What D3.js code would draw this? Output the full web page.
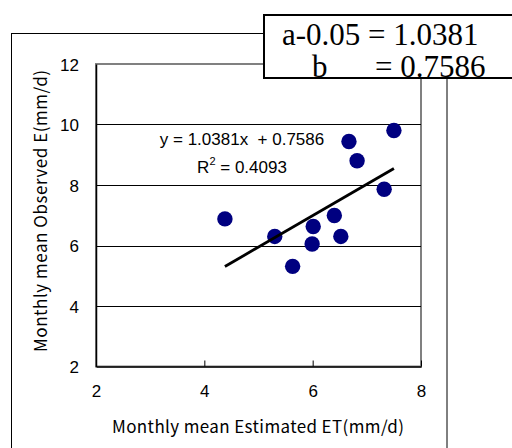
<!DOCTYPE html>
<html><head><meta charset="utf-8">
<script src="https://cdn.jsdelivr.net/npm/d3@7"></script>
<style>body{margin:0;background:#fff}svg{display:block}</style>
</head><body>
<script>
const estET = [4.38, 5.30, 5.63, 5.99, 6.01, 6.40, 6.52, 6.67, 6.82, 7.32, 7.50];
const obsE  = [6.88, 6.30, 5.31, 6.05, 6.63, 6.99, 6.30, 9.44, 8.80, 7.86, 9.80];
const xTicks = [2, 4, 6, 8];
const yTicks = [2, 4, 6, 8, 10, 12];
const slope = 1.0381, intercept = 0.7586, r2 = 0.4093;
const xTitle = "Monthly mean Estimated ET(mm/d)";
const yTitle = "Monthly mean Observed E(mm/d)";
const boxLine1 = "a-0.05 = 1.0381";
const boxLine2a = "b", boxLine2b = "= 0.7586";

const W = 512, H = 448;
const svg = d3.select("body").append("svg").attr("width", W).attr("height", H);
const L = 96, R = 421, T = 64, B = 366.5;
const x = d3.scaleLinear().domain([2, 8]).range([L, R]);
const y = d3.scaleLinear().domain([2, 12]).range([B, T]);

// outer chart frame
svg.append("rect").attr("x", 11.5).attr("y", 33.5).attr("width", 435.5).attr("height", 440)
  .attr("fill", "#fff").attr("stroke", "#000").attr("stroke-width", 1);

// plot area border (gray)
svg.append("rect").attr("x", L).attr("y", T).attr("width", R - L).attr("height", B - T)
  .attr("fill", "none").attr("stroke", "#808080").attr("stroke-width", 2);

// gridlines
svg.append("g").selectAll("line").data(yTicks.filter(d => d > 2 && d < 12)).join("line")
  .attr("x1", L).attr("x2", R).attr("y1", d => Math.round(y(d)) + 0.5).attr("y2", d => Math.round(y(d)) + 0.5)
  .attr("stroke", "#000").attr("stroke-width", 1);

// axes
const xAxis = d3.axisBottom(x).tickValues(xTicks).tickSizeInner(-6).tickSizeOuter(0).tickFormat(d3.format("d"));
const gx = svg.append("g").attr("transform", `translate(0,${B})`).call(xAxis);
gx.select(".domain").attr("stroke", "#000").attr("stroke-width", 1.5);
gx.selectAll(".tick line").attr("stroke", "#000");
gx.selectAll(".tick text").attr("y", 30.5).attr("dy", 0).attr("font-family", "Liberation Sans, Arial, sans-serif").attr("font-size", 17).attr("fill", "#000");

const yAxis = d3.axisLeft(y).tickValues(yTicks).tickSize(0).tickPadding(17).tickFormat(d3.format("d"));
const gy = svg.append("g").attr("transform", `translate(${L},0)`).call(yAxis);
gy.select(".domain").attr("stroke", "#000").attr("stroke-width", 1.5);
gy.selectAll(".tick text").attr("dy", "0.36em").attr("font-family", "Liberation Sans, Arial, sans-serif").attr("font-size", 17).attr("fill", "#000");

// points
svg.append("g").selectAll("circle").data(estET.map((d, i) => [d, obsE[i]])).join("circle")
  .attr("cx", d => x(d[0])).attr("cy", d => y(d[1])).attr("r", 7.7).attr("fill", "#000080");

// trendline
const xmin = d3.min(estET), xmax = d3.max(estET);
svg.append("line").attr("x1", x(xmin)).attr("y1", y(slope * xmin + intercept))
  .attr("x2", x(xmax)).attr("y2", y(slope * xmax + intercept))
  .attr("stroke", "#000").attr("stroke-width", 2.8);

// equation
const eq = svg.append("g").attr("font-family", "Liberation Sans, Arial, sans-serif").attr("font-size", 17).attr("fill", "#000");
eq.append("text").attr("x", 242).attr("y", 145).attr("text-anchor", "middle").style("white-space", "pre")
  .text(`y = ${slope}x  + ${intercept}`);
const r2t = eq.append("text").attr("x", 242).attr("y", 173).attr("text-anchor", "middle");
r2t.append("tspan").text("R");
r2t.append("tspan").attr("font-size", 11).attr("dy", -8).text("2");
r2t.append("tspan").attr("dy", 8).text(` = ${r2}`);

// axis titles
svg.append("text").attr("x", 258).attr("y", 433).attr("text-anchor", "middle")
  .attr("font-family", "Noto Sans CJK JP, sans-serif").attr("font-size", 17).attr("fill", "#000")
  .attr("textLength", 292).attr("lengthAdjust", "spacing")
  .text(xTitle);
svg.append("text").attr("transform", "translate(47,211) rotate(-90)").attr("text-anchor", "middle")
  .attr("font-family", "Noto Sans CJK JP, sans-serif").attr("font-size", 17).attr("fill", "#000")
  .attr("textLength", 282).attr("lengthAdjust", "spacing")
  .text(yTitle);

// parameter box
svg.append("rect").attr("x", 264).attr("y", 15).attr("width", 260).attr("height", 63)
  .attr("fill", "#fff").attr("stroke", "#000").attr("stroke-width", 2);
const bt = svg.append("g").attr("font-family", "Liberation Serif, Times New Roman, serif").attr("font-size", 31).attr("fill", "#000");
bt.append("text").attr("x", 282).attr("y", 45).text(boxLine1);
bt.append("text").attr("x", 312).attr("y", 77).text(boxLine2a);
bt.append("text").attr("x", 375).attr("y", 77).text(boxLine2b);
</script>
</body></html>
